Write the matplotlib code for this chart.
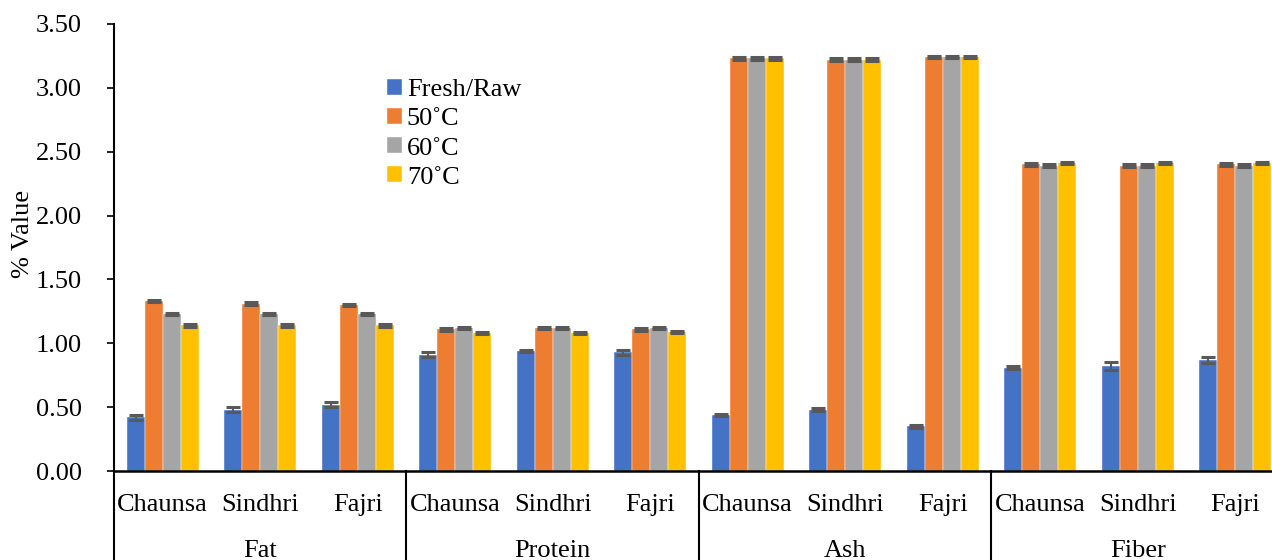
import matplotlib
matplotlib.use("Agg")
import matplotlib.pyplot as plt
import numpy as np

groups = ["Fat", "Protein", "Ash", "Fiber"]
varieties = ["Chaunsa", "Sindhri", "Fajri"]
series = ["Fresh/Raw", "50˚C", "60˚C", "70˚C"]

fresh = [0.42, 0.48, 0.52, 0.91, 0.94, 0.93, 0.44, 0.48, 0.35, 0.81, 0.82, 0.87]
c50 = [1.33, 1.31, 1.30, 1.11, 1.12, 1.11, 3.23, 3.22, 3.24, 2.40, 2.39, 2.40]
c60 = [1.23, 1.23, 1.23, 1.12, 1.12, 1.12, 3.23, 3.22, 3.24, 2.39, 2.39, 2.39]
c70 = [1.14, 1.14, 1.14, 1.08, 1.08, 1.09, 3.23, 3.22, 3.24, 2.41, 2.41, 2.41]

err_fresh = [0.02, 0.02, 0.02, 0.02, 0.01, 0.02, 0.01, 0.01, 0.01, 0.01, 0.03, 0.025]
err_c50 = [0.01] * 12
err_c60 = [0.01] * 12
err_c70 = [0.01] * 12

colors = ["#4472C4", "#ED7D31", "#A5A5A5", "#FFC000"]
values = [fresh, c50, c60, c70]
errors = [err_fresh, err_c50, err_c60, err_c70]

plt.rcParams["font.family"] = ["Liberation Serif", "DejaVu Serif"]
FS = 19

W, H = 1272, 560
fig = plt.figure(figsize=(W / 100, H / 100), dpi=100)
ax = fig.add_axes([114 / W, (560 - 471) / H, 1170 / W, 447 / H])

n = len(fresh)
x = np.arange(n)
bw = 0.185
handles = []
for i, (vals, errs, col, lab) in enumerate(zip(values, errors, colors, series)):
    pos = x + (i - 1.5) * bw
    b = ax.bar(pos, vals, width=bw, color=col, label=lab, zorder=2,
               edgecolor="white", linewidth=0.3)
    ax.errorbar(pos, vals, yerr=errs, fmt="none", ecolor="#595959",
                elinewidth=1.5, capsize=5, capthick=2.2, zorder=3)
    handles.append(b)

ax.set_xlim(-0.5, n - 0.5)
ax.set_ylim(0, 3.5)
ax.set_yticks(np.arange(0, 3.51, 0.5))
ax.set_yticklabels([f"{v:.2f}" for v in np.arange(0, 3.51, 0.5)], fontsize=FS)
ax.tick_params(axis="y", length=5, width=1.2, pad=18, direction="out")
ax.set_xticks([])
for s in ["top", "right"]:
    ax.spines[s].set_visible(False)
ax.spines["left"].set_linewidth(1.5)
ax.spines["bottom"].set_linewidth(1.8)

trans = ax.get_xaxis_transform()
for k in range(n):
    ax.text(x[k], -0.075, varieties[k % 3], transform=trans, ha="center",
            va="center", fontsize=FS)
for g, name in enumerate(groups):
    ax.text(3 * g + 1, -0.18, name, transform=trans, ha="center",
            va="center", fontsize=FS)
for b in [-0.5, 2.5, 5.5, 8.5, 11.5]:
    ax.plot([b, b], [0, -0.25], transform=trans, color="black",
            linewidth=1.5, clip_on=False)

fig.text(23 / W, 1 - 234 / H, "% Value", rotation=90, ha="center",
         va="center", fontsize=FS)

leg = fig.legend(handles=handles, labels=series, loc="upper left",
                 bbox_to_anchor=(387 / W, 1 - 79 / H), frameon=False,
                 fontsize=FS, handlelength=0.55, handleheight=0.55,
                 handletextpad=0.2, labelspacing=0.26, borderpad=0,
                 borderaxespad=0)

fig.savefig("out.png", dpi=100)
